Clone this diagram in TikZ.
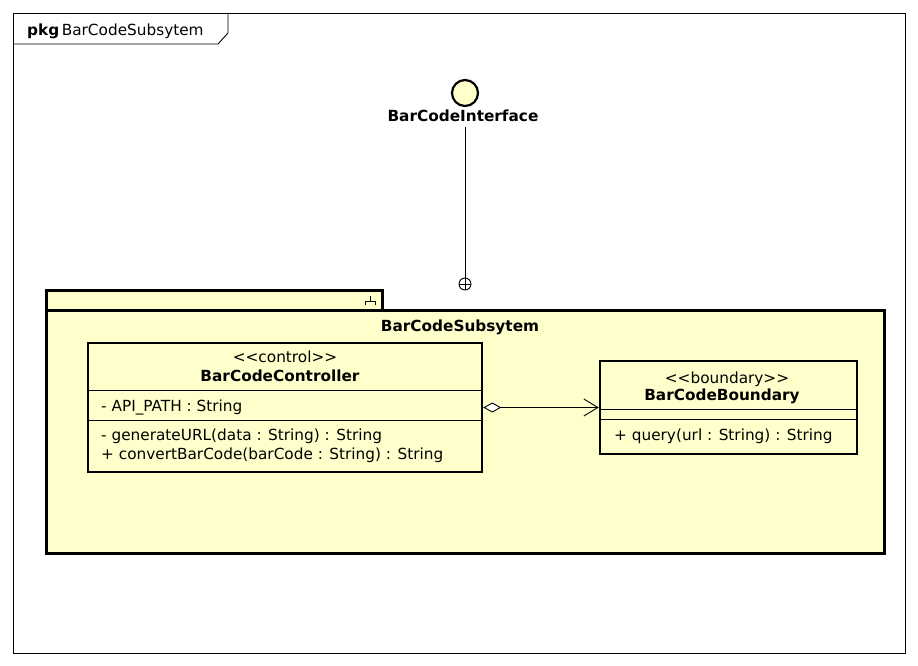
\documentclass[tikz,border=0pt]{standalone}
\usepackage{fontspec}
\setmainfont{DejaVu Sans}
\usetikzlibrary{arrows.meta}
\definecolor{umlfill}{HTML}{FFFFCC}
\tikzset{
  txt/.style={inner sep=0pt, font=\fontsize{15.3}{17}\selectfont},
  btxt/.style={txt, font=\fontsize{15.3}{17}\selectfont\bfseries},
  classbox/.style={draw, line width=2.5pt, fill=umlfill, inner sep=0pt},
  thin/.style={line width=0.9pt},
}
\begin{document}
\begin{tikzpicture}[x=1pt,y=-1pt]
\useasboundingbox (0,0) rectangle (918,666);
% outer frame
\draw[thin] (13,13) rectangle (905,653);
\draw[thin] (13,44) -- (218,44) -- (228,33) -- (228,13);
\node[txt, anchor=base west] (pkglbl) at (27,36) {\textbf{pkg}\,BarCodeSubsytem};
% package
\draw[line width=3pt, fill=umlfill] (46,290) rectangle (382,310);
\draw[line width=3pt, fill=umlfill] (46,310) rectangle (884,553);
\draw[thin] (365,305) -- (365,301) -- (375,301) -- (375,305) (370,301) -- (370,296);
\node[btxt, anchor=base] (pkgname) at (460,331) {BarCodeSubsytem};
% interface
\node[draw, circle, line width=2.2pt, fill=umlfill, minimum size=26pt, inner sep=0pt] (iface) at (465,93) {};
\node[btxt, anchor=base] (ifacelbl) at (463,122) {BarCodeInterface};
\node[draw, circle, thin, minimum size=12pt, inner sep=0pt] (plus) at (465,284) {};
\draw[thin] (plus.north) -- (plus.south) (plus.west) -- (plus.east);
\coordinate (ifbot) at (465,127);
\draw[thin] (ifbot) -- (plus.north);
% controller
\node[classbox, minimum width=394pt, minimum height=129pt] (ctrl) at (285,407.5) {};
\node[txt, anchor=base] (cst) at (285,362) {<{}<control>{}>};
\node[btxt, anchor=base] (cname) at (280,381) {BarCodeController};
\draw[thin] (88,390) -- (482,390);
\draw[thin] (88,420) -- (482,420);
\node[txt, anchor=base west] (cattr) at (101,411) {- API\_PATH : String};
\node[txt, anchor=base west] (cm1) at (101,440) {- generateURL(data : String) : String};
\node[txt, anchor=base west] (cm2) at (101,459) {+ convertBarCode(barCode : String) : String};
% boundary
\node[classbox, minimum width=257pt, minimum height=93pt] (bnd) at (728.5,407.5) {};
\node[txt, anchor=base] (bst) at (727,383) {<{}<boundary>{}>};
\node[btxt, anchor=base] (bname) at (722,400) {BarCodeBoundary};
\draw[thin] (600,409) -- (857,409);
\draw[thin] (600,419) -- (857,419);
\node[txt, anchor=base west] (bm1) at (614,440) {+ query(url : String) : String};
% aggregation
\draw[thin, {Diamond[open, fill=white, length=18pt, width=10pt]}-{Straight Barb[length=14pt, width=17pt]}] (ctrl.east) -- (bnd.west);
\end{tikzpicture}
\end{document}
